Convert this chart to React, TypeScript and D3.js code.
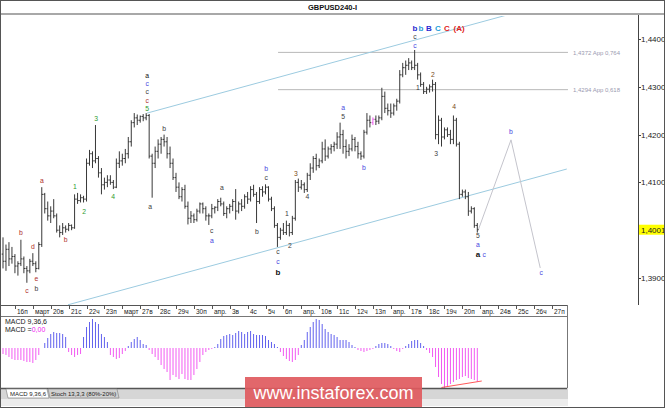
import React from 'react';
import * as d3 from 'd3';

// GBPUSD H4 bars, 15 Mar - 20 Apr
const opens = [
  1.3950, 1.3935, 1.3960, 1.3940, 1.3945, 1.3925, 1.3930, 1.3940, 1.3920, 1.3915,
  1.3935, 1.3930, 1.3920, 1.3970, 1.4075, 1.4045, 1.4030, 1.4040, 1.4030, 1.4000,
  1.3995, 1.4005, 1.4002, 1.4010, 1.4005, 1.4065, 1.4062, 1.4068, 1.4065, 1.4140,
  1.4160, 1.4145, 1.4150, 1.4120, 1.4095, 1.4100, 1.4105, 1.4100, 1.4090, 1.4140,
  1.4145, 1.4150, 1.4160, 1.4185, 1.4225, 1.4235, 1.4230, 1.4238, 1.4235, 1.4240,
  1.4155, 1.4140, 1.4165, 1.4180, 1.4190, 1.4185, 1.4160, 1.4140, 1.4110, 1.4090,
  1.4070, 1.4085, 1.4050, 1.4025, 1.4030, 1.4022, 1.4040, 1.4055, 1.4045, 1.4030,
  1.4030, 1.4045, 1.4048, 1.4060, 1.4055, 1.4035, 1.4045, 1.4050, 1.4060, 1.4040,
  1.4055, 1.4050, 1.4070, 1.4065, 1.4085, 1.4075, 1.4060, 1.4085, 1.4080, 1.4090,
  1.4065, 1.4045, 1.4010, 1.3985, 1.4000, 1.3995, 1.4010, 1.3995, 1.4025, 1.4100,
  1.4090, 1.4095, 1.4085, 1.4115, 1.4130, 1.4150, 1.4135, 1.4145, 1.4170, 1.4155,
  1.4170, 1.4175, 1.4180, 1.4195, 1.4200, 1.4175, 1.4165, 1.4170, 1.4190, 1.4175,
  1.4160, 1.4155, 1.4205, 1.4230, 1.4225, 1.4232, 1.4228, 1.4235, 1.4280, 1.4255,
  1.4250, 1.4245, 1.4260, 1.4270, 1.4325, 1.4340, 1.4345, 1.4350, 1.4340, 1.4345,
  1.4325, 1.4305, 1.4290, 1.4295, 1.4300, 1.4305, 1.4200, 1.4230, 1.4195, 1.4210,
  1.4200, 1.4190, 1.4230, 1.4180, 1.4075, 1.4080, 1.4070, 1.4040, 1.4045, 1.4010,
];
const highs = [
  1.3985, 1.3970, 1.3975, 1.3965, 1.3950, 1.3935, 1.3980, 1.3945, 1.3925, 1.3940,
  1.3952, 1.3935, 1.3975, 1.4090, 1.4078, 1.4060, 1.4050, 1.4065, 1.4035, 1.4010,
  1.4015, 1.4010, 1.4015, 1.4012, 1.4075, 1.4078, 1.4075, 1.4072, 1.4150, 1.4168,
  1.4165, 1.4220, 1.4155, 1.4130, 1.4110, 1.4115, 1.4115, 1.4105, 1.4150, 1.4165,
  1.4160, 1.4170, 1.4195, 1.4230, 1.4245, 1.4242, 1.4240, 1.4243, 1.4245, 1.4243,
  1.4160, 1.4175, 1.4190, 1.4195, 1.4200, 1.4195, 1.4175, 1.4150, 1.4120, 1.4100,
  1.4090, 1.4095, 1.4060, 1.4040, 1.4035, 1.4045, 1.4058, 1.4058, 1.4050, 1.4035,
  1.4055, 1.4050, 1.4065, 1.4068, 1.4060, 1.4050, 1.4055, 1.4065, 1.4086, 1.4060,
  1.4065, 1.4075, 1.4080, 1.4092, 1.4095, 1.4080, 1.4090, 1.4092, 1.4096, 1.4092,
  1.4070, 1.4050, 1.4015, 1.4005, 1.4015, 1.4020, 1.4015, 1.4030, 1.4105, 1.4108,
  1.4105, 1.4100, 1.4120, 1.4140, 1.4155, 1.4160, 1.4150, 1.4185, 1.4190, 1.4175,
  1.4180, 1.4185, 1.4205, 1.4225, 1.4210, 1.4190, 1.4180, 1.4200, 1.4195, 1.4185,
  1.4165, 1.4210, 1.4245, 1.4240, 1.4236, 1.4240, 1.4240, 1.4298, 1.4290, 1.4265,
  1.4265, 1.4265, 1.4275, 1.4335, 1.4350, 1.4355, 1.4360, 1.4355, 1.4377, 1.4350,
  1.4330, 1.4310, 1.4300, 1.4305, 1.4315, 1.4310, 1.4240, 1.4235, 1.4215, 1.4215,
  1.4210, 1.4240, 1.4235, 1.4185, 1.4085, 1.4085, 1.4080, 1.4050, 1.4048, 1.4015,
];
const lows = [
  1.3920, 1.3915, 1.3925, 1.3930, 1.3910, 1.3905, 1.3925, 1.3910, 1.3890, 1.3910,
  1.3925, 1.3912, 1.3918, 1.3965, 1.4035, 1.4020, 1.4015, 1.4025, 1.3995, 1.3985,
  1.3990, 1.3995, 1.3998, 1.4000, 1.4003, 1.4055, 1.4058, 1.4058, 1.4060, 1.4135,
  1.4130, 1.4140, 1.4110, 1.4075, 1.4085, 1.4090, 1.4095, 1.4086, 1.4088, 1.4130,
  1.4135, 1.4140, 1.4150, 1.4175, 1.4215, 1.4220, 1.4225, 1.4228, 1.4230, 1.4150,
  1.4068, 1.4130, 1.4150, 1.4160, 1.4175, 1.4150, 1.4130, 1.4105, 1.4080, 1.4065,
  1.4060, 1.4045, 1.4012, 1.4015, 1.4015, 1.4018, 1.4035, 1.4035, 1.4020, 1.4011,
  1.4025, 1.4035, 1.4040, 1.4050, 1.4030, 1.4025, 1.4035, 1.4040, 1.4022, 1.4035,
  1.4040, 1.4045, 1.4055, 1.4060, 1.4070, 1.4015, 1.4055, 1.4070, 1.4075, 1.4060,
  1.4040, 1.4005, 1.3965, 1.3980, 1.3990, 1.3990, 1.3987, 1.3990, 1.4020, 1.4080,
  1.4085, 1.4078, 1.4080, 1.4105, 1.4120, 1.4125, 1.4130, 1.4140, 1.4145, 1.4150,
  1.4160, 1.4165, 1.4170, 1.4170, 1.4160, 1.4150, 1.4155, 1.4165, 1.4165, 1.4150,
  1.4147, 1.4150, 1.4200, 1.4215, 1.4220, 1.4220, 1.4222, 1.4230, 1.4245, 1.4240,
  1.4235, 1.4240, 1.4250, 1.4265, 1.4320, 1.4325, 1.4335, 1.4335, 1.4335, 1.4315,
  1.4300, 1.4285, 1.4285, 1.4288, 1.4290, 1.4190, 1.4180, 1.4175, 1.4190, 1.4195,
  1.4180, 1.4180, 1.4175, 1.4065, 1.4070, 1.4065, 1.4030, 1.4035, 1.4005, 1.3995,
];
const closes = [
  1.3935, 1.3960, 1.3940, 1.3945, 1.3925, 1.3930, 1.3940, 1.3920, 1.3915, 1.3935,
  1.3930, 1.3920, 1.3970, 1.4075, 1.4045, 1.4030, 1.4040, 1.4030, 1.4000, 1.3995,
  1.4005, 1.4002, 1.4010, 1.4005, 1.4065, 1.4062, 1.4068, 1.4065, 1.4140, 1.4160,
  1.4145, 1.4150, 1.4120, 1.4095, 1.4100, 1.4105, 1.4100, 1.4090, 1.4140, 1.4145,
  1.4150, 1.4160, 1.4185, 1.4225, 1.4235, 1.4230, 1.4238, 1.4235, 1.4240, 1.4155,
  1.4140, 1.4165, 1.4180, 1.4190, 1.4185, 1.4160, 1.4140, 1.4110, 1.4090, 1.4070,
  1.4085, 1.4050, 1.4025, 1.4030, 1.4022, 1.4040, 1.4055, 1.4045, 1.4030, 1.4030,
  1.4045, 1.4048, 1.4060, 1.4055, 1.4035, 1.4045, 1.4050, 1.4060, 1.4040, 1.4055,
  1.4050, 1.4070, 1.4065, 1.4085, 1.4075, 1.4060, 1.4085, 1.4080, 1.4090, 1.4065,
  1.4045, 1.4010, 1.3985, 1.4000, 1.3995, 1.4010, 1.3995, 1.4025, 1.4100, 1.4090,
  1.4095, 1.4085, 1.4115, 1.4130, 1.4150, 1.4135, 1.4145, 1.4170, 1.4155, 1.4170,
  1.4175, 1.4180, 1.4195, 1.4200, 1.4175, 1.4165, 1.4170, 1.4190, 1.4175, 1.4160,
  1.4155, 1.4205, 1.4230, 1.4225, 1.4232, 1.4228, 1.4235, 1.4280, 1.4255, 1.4250,
  1.4245, 1.4260, 1.4270, 1.4325, 1.4340, 1.4345, 1.4350, 1.4340, 1.4345, 1.4325,
  1.4305, 1.4290, 1.4295, 1.4300, 1.4305, 1.4200, 1.4230, 1.4195, 1.4210, 1.4200,
  1.4190, 1.4230, 1.4180, 1.4075, 1.4080, 1.4070, 1.4040, 1.4045, 1.4010, 1.4001,
];

// MACD(9,36,6) histogram, in points
const macdHist = [
  -6, -7, -9, -11, -12, -12, -12, -13, -14, -14, -15, -12, -7, 0, 5, 10, 14, 16, 15, 15,
  14, 11, -4, -7, -9, -7, -6, 11, 21, 26, 29, 26, 24, 14, 11, 6, -7, -9, -11, -10,
  -6, -3, 2, 6, 9, 11, 8, 4, 3, -2, -6, -9, -12, -17, -21, -24, -32, -27, -29, -31,
  -26, -31, -32, -32, -27, -21, -14, -7, -4, -2, -1, 1, 4, 9, 12, 13, 14, 13, 15, 17,
  16, 14, 16, 17, 14, 13, 13, 13, 12, 8, 6, 4, 1, -4, -8, -11, -13, -14, -12, -7,
  3, 8, 16, 21, 26, 29, 28, 24, 19, 16, 14, 13, 11, 8, 8, 8, 6, 3, 1, -2,
  -3, -4, -3, -2, -1, 2, 4, 5, 5, 4, 2, -1, -3, -4, -1, 2, 4, 7, 8, 8,
  5, 2, -2, -5, -9, -19, -29, -36, -40, -38, -36, -34, -32, -31, -29, -28, -30, -31, -32, -34,
];
const macdDivergence = [[147, -39.5], [160.5, -33]];

const dayLabels = [
  '16п', 'март', '20в', '21с', '22ч', '23п', 'март', '27в', '28с', '29ч', '30п',
  'апр.', '3в', '4с', '5ч', '6п', 'апр.', '10в', '11с', '12ч', '13п',
  'апр.', '17в', '18с', '19ч', '20п', 'апр.', '24в', '25с', '26ч', '27п',
];
const priceTicks = [1.39, 1.41, 1.42, 1.43, 1.44];
const lastPrice = 1.4001;

const fibLevels = [
  { price: 1.4372, text: '1,4372 App 0,764' },
  { price: 1.4294, text: '1,4294 App 0,618' },
];
const fibSpan = [92.2, 189.4];

// trend channel, in [bar, price]
const channelUpper = [[48.3, 1.4245], [170, 1.4452]];
const channelLower = [[21.8, 1.3844], [189, 1.4128]];
const forecast = [[159.3, 1.4000], [170.3, 1.4189], [180.1, 1.3921]];

const RED = '#b0302c';
const GREEN = '#2e9a2e';
const DARK = '#404040';
const BLUE = '#4848e0';
const BROWN = '#7a4a20';
const BLACK = '#111111';

// wave marks: [bar, price, text, colour, bold]
const waveLabels: [number, number, string, string, boolean?][] = [
  [6, 1.3995, 'b', RED], [8, 1.3873, 'c', RED], [10, 1.3965, 'd', RED],
  [11.2, 1.3898, 'e', RED], [11.2, 1.3878, 'b', DARK], [13, 1.4103, 'a', RED],
  [21, 1.3980, 'b', RED], [24.1, 1.4091, '1', GREEN], [27.2, 1.4038, '2', GREEN],
  [31.2, 1.4233, '3', GREEN], [36.9, 1.4070, '4', GREEN],
  [48.3, 1.4323, 'a', BLACK], [48.3, 1.4306, 'c', BLUE], [48.3, 1.4289, 'c', DARK],
  [48.3, 1.4272, 'c', RED], [48.3, 1.4255, '5', GREEN],
  [49.3, 1.4049, 'a', DARK], [54, 1.4212, 'b', DARK],
  [70, 1.3999, 'c', DARK], [70, 1.3978, 'a', BLUE], [73.4, 1.4089, 'a', DARK],
  [85.1, 1.3997, 'b', DARK], [88.2, 1.4128, 'b', BLUE], [88.2, 1.4109, 'c', DARK],
  [92.2, 1.3955, 'c', DARK], [92.2, 1.3934, 'c', BLUE], [92.2, 1.3913, 'b', BLACK, true],
  [95.2, 1.4034, '1', DARK], [96.2, 1.3967, '2', DARK], [98.2, 1.4118, '3', BROWN],
  [102, 1.4070, '4', DARK], [114, 1.4257, 'a', BLUE], [114, 1.4237, '5', DARK],
  [121, 1.4130, 'b', BLUE],
  [138.1, 1.4404, 'c', DARK], [138.1, 1.4387, 'c', BLUE],
  [139.1, 1.4298, '1', DARK], [144.1, 1.4325, '2', BROWN], [145.2, 1.4160, '3', DARK],
  [151.2, 1.4258, '4', BROWN],
  [159.2, 1.3988, '5', DARK], [159.2, 1.3969, 'a', BLUE], [159.2, 1.3949, 'a', BLACK, true],
  [161.3, 1.3949, 'c', BLUE], [170.3, 1.4206, 'b', BLUE], [180.4, 1.3911, 'c', BLUE],
];
const topLabels: [number, string, string][] = [
  [138.1, 'b', '#2a2ad0'], [140.1, 'b', '#2a9ad8'], [142.8, 'B', '#2a2ad0'],
  [145.8, 'C', '#1aa0d8'], [148.8, 'C', '#e02020'], [152.9, '(A)', '#e02020'],
];
const topLabelPrice = 1.4423;
const pinkBar = 124;

const W = 665;
const H = 408;
const font = '"Liberation Sans", Arial, sans-serif';

const fmt = (v: number) => d3.format('.4f')(v).replace('.', ',');

export default function App() {
  const x = d3.scaleLinear().domain([0, 190]).range([3, 3 + 190 * 2.983]);
  const y = d3.scaleLinear().domain([1.39, 1.44]).range([278, 39]);
  const ym = d3.scaleLinear().domain([-40, 32]).range([388, 316]);

  const seg = d3.line<number[]>().x(d => x(d[0])).y(d => y(d[1]));
  const segM = d3.line<number[]>().x(d => x(d[0])).y(d => ym(d[1]));

  const bars = highs.map((h, i) => {
    const cx = x(i);
    return `M${cx},${y(h)}V${y(lows[i])}M${cx - 1.3},${y(opens[i])}H${cx}M${cx},${y(closes[i])}H${cx + 1.3}`;
  });

  const axisRight = 638;
  const plotRight = 567;

  return (
    <svg width={W} height={H} style={{ position: 'absolute', left: 0, top: 0, background: '#fff' }} fontFamily={font}>
      <defs>
        <clipPath id="main">
          <rect x={1} y={16} width={axisRight - 1} height={305 - 16} />
        </clipPath>
      </defs>
      <rect x={0} y={0} width={W} height={H} fill="#fff" />

      {/* title */}
      <text x={W / 2} y={10} textAnchor="middle" fontSize={7.5} fontWeight="bold" fill="#111">GBPUSD240-I</text>
      <rect x={0} y={13} width={W} height={2} fill="#a8a8a8" />

      <g clipPath="url(#main)">
        {fibLevels.map(f => (
          <g key={f.text}>
            <line x1={x(fibSpan[0])} x2={x(fibSpan[1])} y1={y(f.price)} y2={y(f.price)} stroke="#b8b8b8" strokeWidth={1} />
            <text x={x(fibSpan[1]) + 5} y={y(f.price) + 2.3} fontSize={6} fill="#9a9ab0">{f.text}</text>
          </g>
        ))}
        <path d={seg(channelUpper) || ''} stroke="#9ccbe0" strokeWidth={1} fill="none" />
        <path d={seg(channelLower) || ''} stroke="#9ccbe0" strokeWidth={1} fill="none" />
        <path d={seg(forecast) || ''} stroke="#c4c4cc" strokeWidth={1} fill="none" />

        {bars.map((d, i) => (
          <path key={i} d={d} stroke={i === pinkBar ? '#f060f0' : '#383838'} strokeWidth={1} fill="none" />
        ))}

        {waveLabels.map(([b, p, t, c, bold], k) => (
          <text key={k} x={x(b)} y={y(p)} dy="0.35em" textAnchor="middle" fontSize={bold ? 8 : 6.8}
            fontWeight={bold ? 'bold' : 'normal'} fill={c}>{t}</text>
        ))}
        {topLabels.map(([b, t, c], k) => (
          <text key={k} x={x(b)} y={y(topLabelPrice)} dy="0.35em" textAnchor="middle" fontSize={8}
            fontWeight="bold" fill={c}>{t}</text>
        ))}
      </g>

      {/* price axis */}
      <line x1={axisRight + 0.5} x2={axisRight + 0.5} y1={15} y2={305} stroke="#444" />
      {priceTicks.map(p => (
        <g key={p}>
          <line x1={axisRight} x2={axisRight + 3} y1={Math.round(y(p)) + 0.5} y2={Math.round(y(p)) + 0.5} stroke="#444" />
          <text x={axisRight + 3} y={y(p) + 3} fontSize={8} fill="#222">{fmt(p)}</text>
        </g>
      ))}
      <rect x={axisRight + 1} y={y(lastPrice) - 5} width={W - axisRight - 2} height={10} fill="#ffff00" />
      <text x={axisRight + 3} y={y(lastPrice) + 3} fontSize={8} fill="#222">{fmt(lastPrice)}</text>

      {/* time axis */}
      <line x1={1} x2={plotRight} y1={305.5} y2={305.5} stroke="#555" />
      {dayLabels.map((t, j) => {
        const tx = Math.round(x(4 + 6 * j)) + 0.5;
        return (
          <g key={j}>
            <line x1={tx} x2={tx} y1={305} y2={309} stroke="#555" />
            <text x={tx + 1.5} y={313.5} fontSize={6.5} fill="#222">{t}</text>
          </g>
        );
      })}

      {/* MACD panel */}
      <line x1={1} x2={plotRight} y1={316.5} y2={316.5} stroke="#777" />
      <line x1={plotRight + 0.5} x2={plotRight + 0.5} y1={305} y2={389} stroke="#777" />
      {macdHist.map((v, i) => (
        <line key={i} x1={x(i)} x2={x(i)} y1={ym(0)} y2={ym(v)} stroke={v >= 0 ? '#6262ee' : '#f25af2'} strokeWidth={1} />
      ))}
      <path d={segM(macdDivergence) || ''} stroke="#ff5a5a" strokeWidth={1} fill="none" />
      <text x={5} y={324} fontSize={7} fill="#222">MACD 9,36,6</text>
      <text x={5} y={332} fontSize={7} fill="#222">MACD =<tspan fill="#f020f0">0,00</tspan></text>

      {/* tabs */}
      <rect x={1} y={388} width={plotRight} height={11} fill="#d6d6d6" />
      <rect x={1} y={399} width={plotRight} height={7} fill="#ececec" />
      <line x1={1} x2={plotRight} y1={388.5} y2={388.5} stroke="#555" strokeWidth={1.5} />
      <path d="M6,389 L47,389 L49,398 L8,398 Z" fill="#fff" stroke="#888" strokeWidth={0.7} />
      <text x={10} y={396} fontSize={6} fill="#222">MACD 9,36,6</text>
      <path d="M48,389 L117,389 L119,398 L50,398 Z" fill="#d0d0d0" stroke="#888" strokeWidth={0.7} />
      <text x={51} y={396} fontSize={6} fill="#222">Stoch 13,3,3 (80%-20%)</text>

      {/* watermark */}
      <rect x={245} y={377} width={177} height={30} fill="#e05a5e" opacity={0.92} />
      <text x={333.5} y={399} textAnchor="middle" fontSize={18} fill="#fff">www.instaforex.com</text>

      <rect x={0.5} y={0.5} width={W - 1} height={H - 1} fill="none" stroke="#555" />
    </svg>
  );
}
